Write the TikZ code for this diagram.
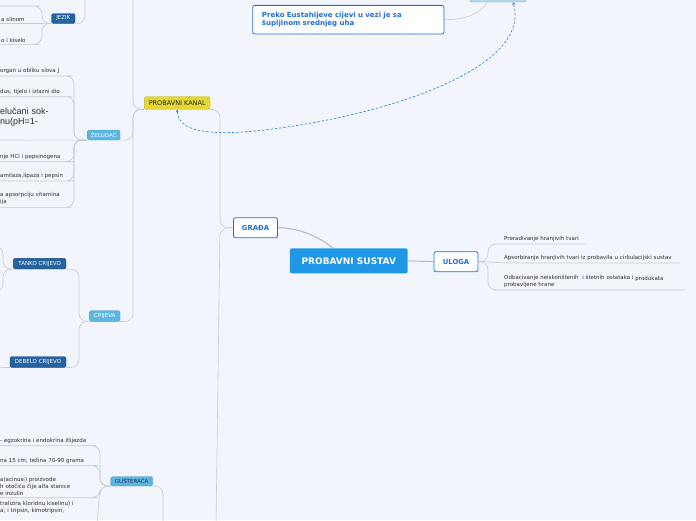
\documentclass[tikz,border=0pt]{standalone}
\usepackage{fontspec}
\setmainfont{DejaVu Sans}
\newfontfamily\bigfont{Liberation Sans}
\usetikzlibrary{arrows.meta}

\definecolor{bgcol}{RGB}{243,245,252}
\definecolor{linkgray}{RGB}{200,203,210}
\definecolor{maingray}{RGB}{180,183,190}
\definecolor{itemtext}{RGB}{45,45,50}
\definecolor{darkblue}{RGB}{36,98,160}
\definecolor{lightblue}{RGB}{92,182,228}
\definecolor{gustext}{RGB}{25,50,80}
\definecolor{mainblue}{RGB}{30,152,230}
\definecolor{boxblue}{RGB}{28,112,214}
\definecolor{kanalyellow}{RGB}{229,215,50}
\definecolor{dashblue}{RGB}{60,140,225}
\definecolor{topfill}{RGB}{178,218,238}

\tikzset{
    link/.style={draw=linkgray, line width=0.6pt, rounded corners=8pt},
    mainlink/.style={draw=maingray, line width=1pt},
    dashlink/.style={draw=dashblue, line width=0.7pt, dash pattern=on 2.5pt off 1.8pt,
        {Stealth[length=3pt,width=3.2pt]}-{Stealth[length=3pt,width=3.2pt]}},
    item/.style={anchor=south west, align=left, inner xsep=2pt, inner ysep=2pt,
        text=itemtext, font=\fontsize{5.5}{7.2}\selectfont},
    darkbox/.style={fill=darkblue, draw=darkblue!80!black, line width=0.3pt, rounded corners=1.5pt,
        text=white, font=\fontsize{5.5}{6}\selectfont, inner sep=0pt},
    lightbox/.style={fill=lightblue, draw=lightblue!85!black, line width=0.3pt, rounded corners=1.5pt,
        text=white, font=\fontsize{5.5}{6}\selectfont, inner sep=0pt},
    whitebox/.style={fill=white, draw=boxblue, line width=0.8pt, rounded corners=2pt,
        text=boxblue, font=\bfseries\fontsize{6.8}{8}\selectfont, inner sep=0pt,
        minimum width=44pt, minimum height=20pt},
    mainbox/.style={fill=mainblue, rounded corners=2pt, text=white,
        font=\bfseries\fontsize{9}{10}\selectfont, inner sep=0pt,
        minimum width=117.7pt, minimum height=25pt},
    kanalbox/.style={fill=kanalyellow, draw=kanalyellow!85!black, line width=0.3pt, rounded corners=1.5pt,
        text=black!85, font=\fontsize{6.5}{7}\selectfont, inner sep=0pt,
        minimum width=65.7pt, minimum height=12.6pt},
    calloutbox/.style={fill=white, draw=boxblue, line width=0.8pt, rounded corners=2pt,
        text=boxblue, font=\bfseries\fontsize{7}{8.3}\selectfont, align=left,
        inner xsep=9.3pt, inner ysep=0pt, text width=172.7pt, minimum height=28.7pt},
    topbox/.style={fill=topfill, draw=linkgray!80!black, line width=0.4pt, rounded corners=2pt,
        minimum width=56pt, minimum height=16pt},
}

\begin{document}
\begin{tikzpicture}[x=1pt, y=-1pt]
    % Canvas
    \useasboundingbox (0,0) rectangle (696,520);
    \fill[bgcol] (0,0) rectangle (696,520);
    \clip (0,0) rectangle (696,520);

    % Main topic and the two branches
    \node[mainbox] (main) at (348.8,260.8) {PROBAVNI SUSTAV};
    \node[whitebox] (grada) at (255.5,227.7) {GRAĐA};
    \node[whitebox] (uloga) at (456,261.7) {ULOGA};
    \draw[mainlink] ([xshift=-16pt]main.north) .. controls (318,236) and (298,227.7) .. (grada.east);
    \draw[mainlink] (main.east) -- (uloga.west);

    % ULOGA
    \coordinate (uj) at (488,261.7);
    \node[item, text width=79pt] (u1) at (502,244) {Preradivanje hranjivih tvari};
    \node[item, text width=174pt] (u2) at (502,263) {Apsorbiranje hranjivih tvari\ iz probavila u cirkulacijski sustav};
    \node[item, text width=179pt] (u3) at (502,290) {Odbacivanje neiskorištenih\ \ i štetnih ostataka i \raisebox{-1pt}{produkata}\\probavljene hrane};
    \draw[link] (uloga.east) -- (uj) |- (u1.south west) -- (u1.south east);
    \draw[link] (uloga.east) -- (uj) -- (u2.south west) -- (u2.south east);
    \draw[link] (uloga.east) -- (uj) |- (u3.south west) -- (u3.south east);

    % GRADA trunk
    \node[kanalbox] (kanal) at (177.2,103) {PROBAVNI KANAL};
    \coordinate (gx) at (220,227.7);
    \coordinate (gdown) at (216,526);
    \draw[link] (grada.west) -- (gx) |- (kanal.south east);
    \draw[link] (grada.west) -- (gx) -- (gdown);

    % Callout and the node above the top edge
    \node[calloutbox] (callout) at (348.3,19.7) {Preko Eustahijeve cijevi u vezi je sa\\šupljinom srednjeg uha};
    \node[topbox] (top) at (498,-6) {};
    \draw[link] (callout.east) .. controls (470,19.5) and (481,12) .. ([xshift=-11pt]top.south);
    \coordinate (dmid) at (300,125);
    \draw[dashlink] (kanal.south) .. controls (178,135) and (220,138) .. (dmid)
        .. controls (420,105) and (530,60) .. ([xshift=15pt]top.south);

    % PROBAVNI KANAL trunk
    \node[lightbox, minimum width=32.7pt, minimum height=10pt] (zeludac) at (103.7,135) {ŽELUDAC};
    \node[lightbox, minimum width=30.7pt, minimum height=10.7pt] (crijeva) at (104.7,316) {CRIJEVA};
    \coordinate (kj) at (133,109.3);
    \coordinate (kup) at (133,-8);
    \draw[link] (kanal.south west) -- (kj) -- (kup);
    \draw[link] (kanal.south west) -- (kj) |- (zeludac.south east);
    \draw[link] (kanal.south west) -- (kj) |- (crijeva.south east);

    % JEZIK
    \node[darkbox, minimum width=23.5pt, minimum height=10pt] (jezik) at (63.3,18.5) {JEZIK};
    \coordinate (jj) at (42,23.5);
    \coordinate (j0a) at (-2,6);
    \coordinate (j0) at (32,6);
    \coordinate (jup) at (85,-8);
    \node[item, text width=39pt] (j2) at (-1,23.5) {a slinom};
    \node[item, text width=29pt] (j3) at (-1,44.3) {o i kiselo};
    \draw[link] (j0a) -- (j0) -| (jj) -- (jezik.south west);
    \draw[link] (j2.south west) -- (j2.south east) -- (jezik.south west);
    \draw[link] (j3.south west) -- (j3.south east) -| (jj) -- (jezik.south west);
    \draw[link] (jezik.south east) -| (jup);

    % ZELUDAC
    \coordinate (zj) at (74,140);
    \node[item, text width=62pt] (z1) at (-2,76) {organ u obliku slova J};
    \node[item, text width=62pt] (z2) at (-2,96.7) {dus, tijelo i izlazni dio};
    \node[item, anchor=north west, text width=66pt, font=\bigfont\fontsize{9}{10}\selectfont] (z3) at (-2,106) {elučani sok-\\nu(pH=1-};
    \node[item, text width=64pt] (z4) at (-2,161.7) {nje HCl i pepsinogena};
    \node[item, text width=64pt] (z5) at (-2,181) {amilaza,lipaza i pepsin};
    \node[item, text width=62pt] (z6) at (-2,207.3) {a apsorpciju vitamina\\ija};
    \draw[link] (z1.south west) -- (z1.south east) -| (zj) -- (zeludac.south west);
    \draw[link] (z2.south west) -- (z2.south east) -| (zj) -- (zeludac.south west);
    \draw[link] (z3.west |- zj) -- (zeludac.south west);
    \draw[link] (z4.south west) -- (z4.south east) -| (zj) -- (zeludac.south west);
    \draw[link] (z5.south west) -- (z5.south east) -| (zj) -- (zeludac.south west);
    \draw[link] (z6.south west) -- (z6.south east) -| (zj) -- (zeludac.south west);

    % CRIJEVA
    \node[darkbox, minimum width=52.7pt, minimum height=10.7pt] (tanko) at (39.7,263.7) {TANKO CRIJEVO};
    \node[darkbox, minimum width=56pt, minimum height=10.7pt] (debelo) at (38,362) {DEBELO CRIJEVO};
    \coordinate (cj) at (79,321.35);
    \draw[link] (tanko.south east) -| (cj) -- (crijeva.south west);
    \draw[link] (debelo.south east) -| (cj) -- (crijeva.south west);
    \coordinate (tj) at (3,269.05);
    \coordinate (t1) at (-6,246);
    \coordinate (t2) at (-6,292);
    \coordinate (dl) at (-6,367.35);
    \draw[link] (tanko.south west) -- (tj) |- (t1);
    \draw[link] (tanko.south west) -- (tj) |- (t2);
    \draw[link] (debelo.south west) -- (dl);

    % GUSTERACA
    \node[lightbox, text=gustext, minimum width=42pt, minimum height=9.5pt] (gusteraca) at (131.7,481.3) {GUŠTERAČA};
    \coordinate (gj) at (100,486.05);
    \coordinate (g4d) at (97,526);
    \coordinate (gsd) at (163,526);
    \node[item, text width=86pt] (g1) at (-2,445.7) {- egzokrina i endokrina žlijezda};
    \node[item, text width=88pt] (g2) at (-2,465.7) {na 15 cm, težina 70-90 grama};
    \node[item, text width=88pt] (g3) at (-2,497.7) {a(acinusi) proizvode\\h otočića čije alfa stanice\\e inzulin};
    \node[item, anchor=north west, text width=88pt] (g4) at (-2,499) {tralizira kloridnu kiselinu) i\\a; i tripsin, kimotripsin,};
    \draw[link] (g1.south west) -- (g1.south east) -| (gj) -- (gusteraca.south west);
    \draw[link] (g2.south west) -- (g2.south east) -| (gj) -- (gusteraca.south west);
    \draw[link] (g3.south west) -- (g3.south east) -| (gj) -- (gusteraca.south west);
    \draw[link] (gusteraca.south west) -- (gj) -- (g4d);
    \draw[link] (gusteraca.south east) -| (gsd);
\end{tikzpicture}
\end{document}
